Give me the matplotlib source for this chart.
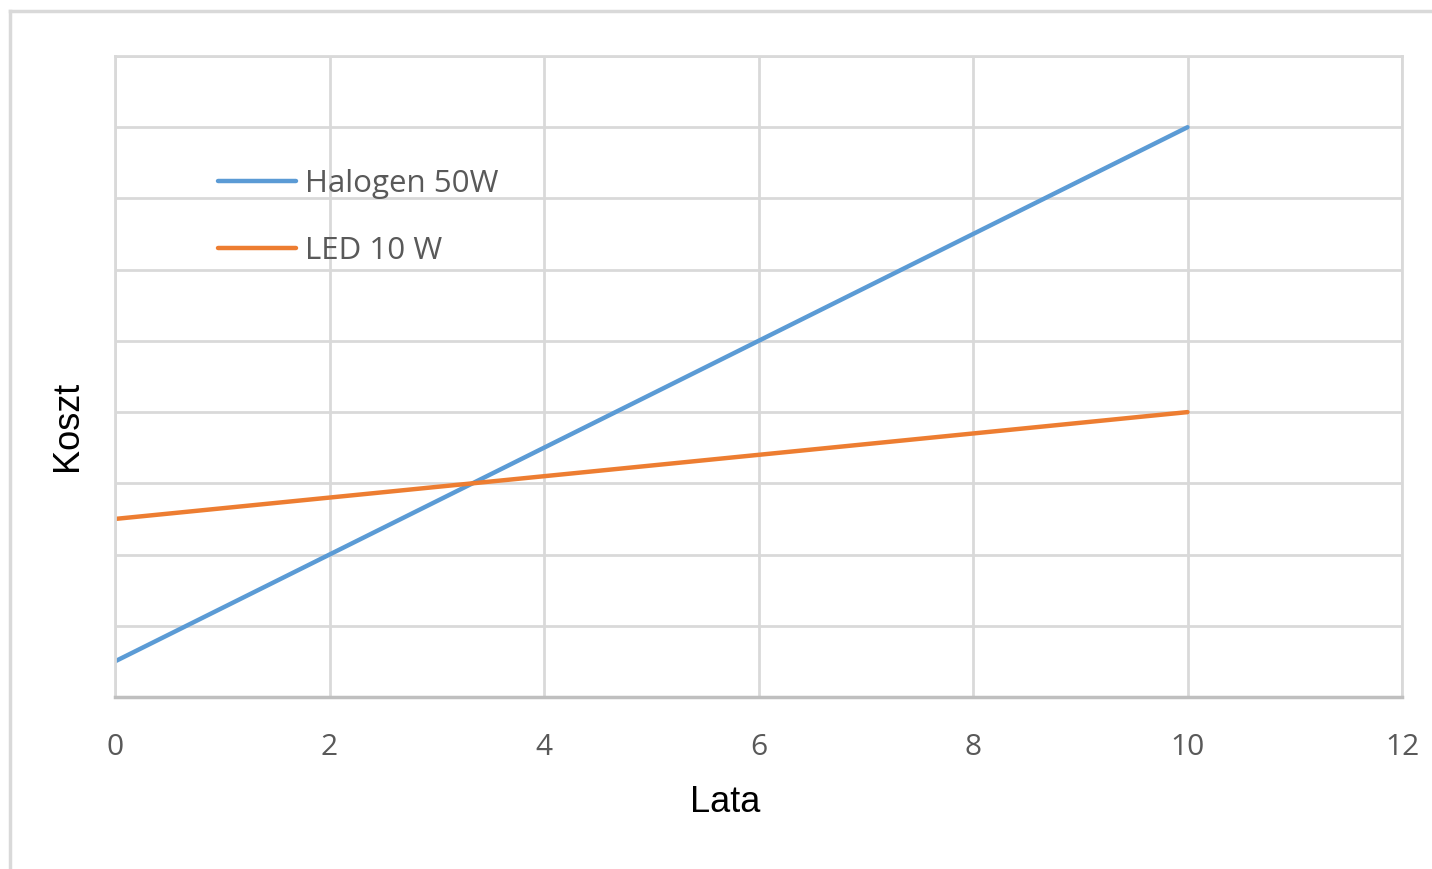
import matplotlib.pyplot as plt
from matplotlib.lines import Line2D

lata = [0, 2, 4, 6, 8, 10]
halogen = [0.5, 2.0, 3.5, 5.0, 6.5, 8.0]
led = [2.5, 2.8, 3.1, 3.4, 3.7, 4.0]
xticks = [0, 2, 4, 6, 8, 10, 12]

fig = plt.figure(figsize=(14.32, 8.69), dpi=100)
ax = fig.add_axes([115/1432, 1 - 697/869, (1402 - 115)/1432, (697 - 56)/869])

ax.plot(lata, halogen, color='#5B9BD5', lw=3.2, label='Halogen 50W', solid_capstyle='round')
ax.plot(lata, led, color='#ED7D31', lw=3.2, label='LED 10 W', solid_capstyle='round')

ax.set_xlim(0, 12)
ax.set_ylim(0, 9)
ax.set_xticks(xticks)
ax.set_yticks(range(10))
ax.grid(True, color='#d9d9d9', lw=2)
ax.set_axisbelow(True)
ax.tick_params(length=0, labelleft=False, pad=26, labelsize=21.5, labelcolor='#595959')
for lab in ax.get_xticklabels():
    lab.set_fontfamily('Open Sans')
for s in ['left', 'top', 'right']:
    ax.spines[s].set_color('#d9d9d9')
    ax.spines[s].set_linewidth(2)
ax.spines['bottom'].set_color('#bfbfbf')
ax.spines['bottom'].set_linewidth(2.5)

leg = ax.legend(loc='upper left', bbox_to_anchor=(0.058, 0.868), frameon=False,
                handlelength=2.5, handletextpad=0.3, labelspacing=1.2,
                prop={'family': 'Open Sans', 'size': 22.5})
for t in leg.get_texts():
    t.set_color('#595959')

fig.text(725/1432, 1 - 802/869, 'Lata', ha='center', va='center',
         fontsize=26, family='Liberation Sans')
fig.text(67/1432, 1 - 426/869, 'Koszt', ha='center', va='center', rotation=90,
         fontsize=26, family='Liberation Sans')

# ramka wykresu
fig.add_artist(Line2D([10/1432, 10/1432], [0, 1 - 11/869], color='#d9d9d9', lw=2.5))
fig.add_artist(Line2D([10/1432, 1], [1 - 11/869, 1 - 11/869], color='#d9d9d9', lw=2.5))

plt.savefig('out.png', dpi=100)
